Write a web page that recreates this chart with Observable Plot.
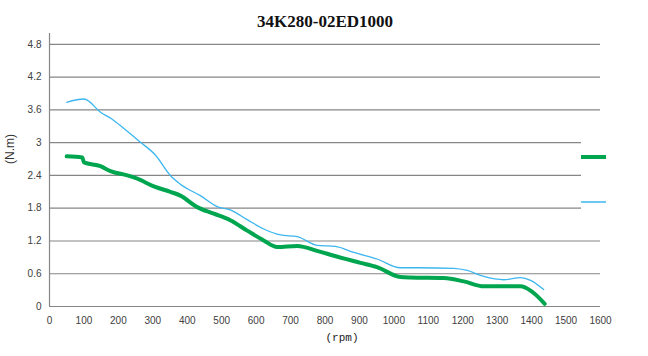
<!DOCTYPE html>
<html>
<head>
<meta charset="utf-8">
<script src="https://cdn.jsdelivr.net/npm/d3@7"></script>
<script src="https://cdn.jsdelivr.net/npm/@observablehq/plot@0.6"></script>
<style>
  html, body { margin: 0; padding: 0; background: #fff; }
  #wrap { position: relative; width: 648px; height: 356px; overflow: hidden; }
  #legend { position: absolute; left: 0; top: 0; }
</style>
</head>
<body>
<div id="wrap"></div>
<script>
const title = "34K280-02ED1000";
const xLabel = "(rpm)";
const yLabel = "(N.m)";
const xTicks = [0, 100, 200, 300, 400, 500, 600, 700, 800, 900, 1000, 1100, 1200, 1300, 1400, 1500, 1600];
const yTicks = [0, 0.6, 1.2, 1.8, 2.4, 3, 3.6, 4.2, 4.8];

// thin blue series
const blueRpm = [50, 100, 150, 180, 216, 264, 308, 351, 380, 438, 487, 525, 574, 622, 671, 719, 777, 830, 884, 951, 1019, 1068, 1174, 1213, 1261, 1319, 1368, 1397, 1435];
const blueTorque = [3.74, 3.80, 3.55, 3.44, 3.26, 3.01, 2.77, 2.40, 2.24, 2.03, 1.83, 1.77, 1.59, 1.42, 1.31, 1.28, 1.12, 1.10, 0.99, 0.87, 0.71, 0.71, 0.70, 0.66, 0.55, 0.49, 0.53, 0.48, 0.31];

// thick green series
const greenRpm = [50, 95, 100, 148, 177, 226, 255, 303, 351, 380, 429, 477, 525, 574, 622, 661, 719, 782, 826, 903, 951, 1019, 1048, 1145, 1203, 1261, 1310, 1368, 1397, 1438];
const greenTorque = [2.75, 2.73, 2.64, 2.57, 2.48, 2.40, 2.34, 2.20, 2.10, 2.03, 1.82, 1.70, 1.58, 1.39, 1.21, 1.09, 1.11, 1.01, 0.93, 0.80, 0.72, 0.54, 0.53, 0.52, 0.46, 0.37, 0.37, 0.37, 0.29, 0.05];

const blueColor = "#3cb6ee";
const greenColor = "#00a64f";

const blue = blueRpm.map((x, i) => ({x, y: blueTorque[i]}));
const green = greenRpm.map((x, i) => ({x, y: greenTorque[i]}));

const chart = Plot.plot({
  width: 648,
  height: 356,
  marginLeft: 49,
  marginRight: 48,
  marginTop: 33,
  marginBottom: 50,
  style: {fontFamily: "Liberation Sans, Arial, sans-serif", fontSize: "10px", color: "#404040", background: "#fff"},
  x: {domain: [0, 1600], ticks: xTicks, tickSize: 0, tickPadding: 10, label: null, tickFormat: d => String(d)},
  y: {domain: [0, 5], ticks: yTicks, tickSize: 0, tickPadding: 8, label: null, tickFormat: d => String(d)},
  marks: [
    Plot.ruleY(yTicks, {x1: 0, x2: 1600, stroke: "#868686", strokeWidth: 1.2}),
    Plot.ruleX([0], {y1: 0, y2: 5, stroke: "#868686", strokeWidth: 1.2}),
    Plot.line(blue, {x: "x", y: "y", stroke: blueColor, strokeWidth: 1.3, curve: "monotone-x"}),
    Plot.line(green, {x: "x", y: "y", stroke: greenColor, strokeWidth: 4, curve: "monotone-x"}),
    Plot.text([title], {frameAnchor: "top", dy: -19, text: d => d, fontFamily: "Liberation Serif, Times New Roman, serif", fontWeight: "bold", fontSize: 17, fill: "#111"}),
    Plot.text([xLabel], {frameAnchor: "bottom", dx: 17, dy: 34, text: d => d, fontFamily: "Liberation Mono, DejaVu Sans Mono, monospace", fontSize: 11, fill: "#222"}),
    Plot.text([yLabel], {frameAnchor: "left", dx: -39, dy: -6, rotate: -90, text: d => d, fontSize: 12, fill: "#333"})
  ]
});
document.getElementById("wrap").appendChild(chart);

// legend box (series without names), drawn over the right end of the grid
const leg = d3.select("#wrap").append("svg").attr("id", "legend").attr("width", 648).attr("height", 356);
leg.append("rect").attr("x", 581).attr("y", 125).attr("width", 67).attr("height", 100).attr("fill", "#fff");
leg.append("line").attr("x1", 581).attr("x2", 606).attr("y1", 157).attr("y2", 157).attr("stroke", greenColor).attr("stroke-width", 4);
leg.append("line").attr("x1", 581).attr("x2", 606).attr("y1", 202).attr("y2", 202).attr("stroke", blueColor).attr("stroke-width", 1.5);
</script>
</body>
</html>
